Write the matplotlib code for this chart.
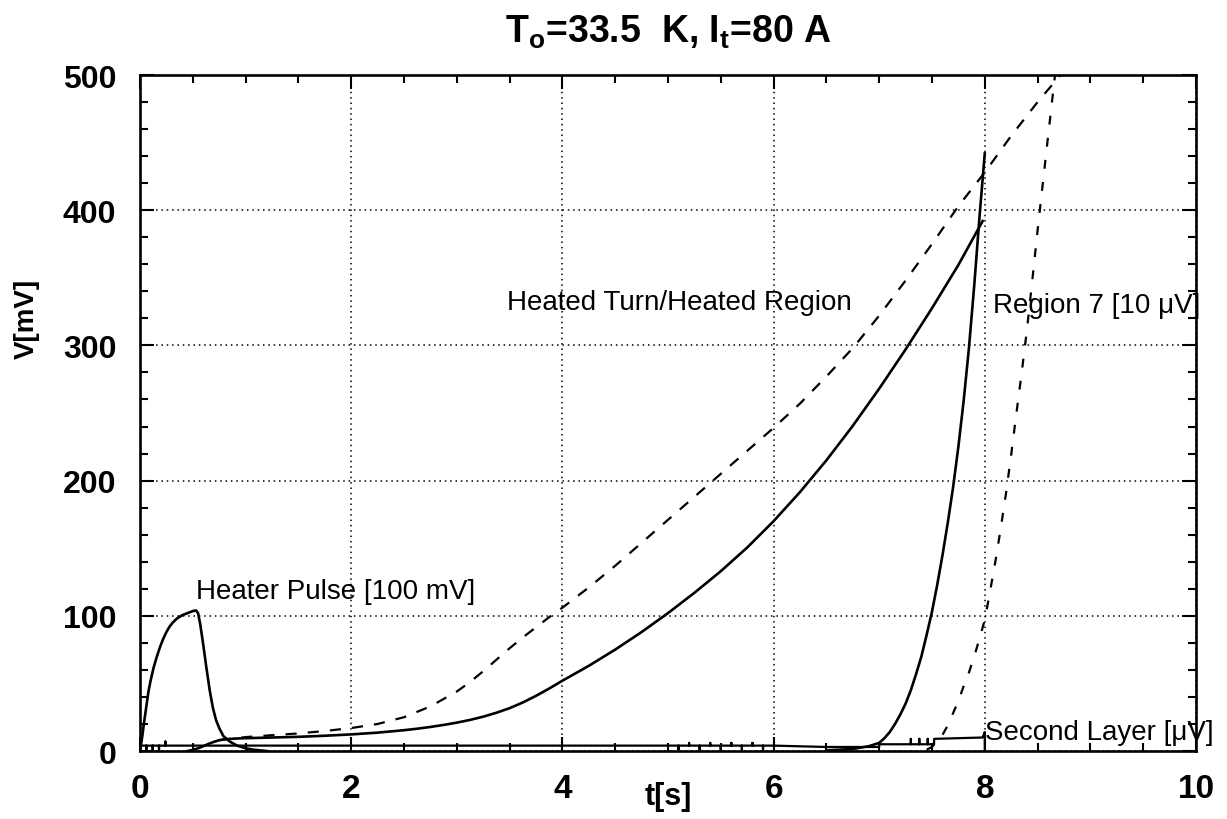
import numpy as np
import matplotlib
matplotlib.use("Agg")
from matplotlib import pyplot as plt
from matplotlib.ticker import MultipleLocator

plt.rcParams['font.family'] = ['Liberation Sans', 'DejaVu Sans']
plt.rcParams['mathtext.fontset'] = 'custom'
plt.rcParams['mathtext.rm'] = 'Liberation Sans'
plt.rcParams['mathtext.bf'] = 'Liberation Sans:bold'

# heater pulse [100 mV]
pulse_t = [0.0, 0.02, 0.04, 0.06, 0.08, 0.1, 0.13, 0.16, 0.19, 0.22, 0.25, 0.28, 0.31, 0.35, 0.4, 0.45, 0.5,
           0.53, 0.55, 0.57, 0.6, 0.63, 0.66, 0.69, 0.72, 0.75, 0.79, 0.85, 0.92, 1.0, 1.07, 1.2]
pulse_v = [0, 10, 22, 33, 44, 52, 62, 70, 77, 83, 88, 92, 95, 98, 100.5, 102, 103.5,
           104, 102, 94, 78, 61, 45, 32, 23, 17, 11, 7, 4, 2, 1, 0]

# heated turn (solid)
turn_t = [0.45, 0.5, 0.55, 0.6, 0.65, 0.7, 0.75, 0.8, 0.9, 1.0, 1.25, 1.5, 1.75, 2.0, 2.25, 2.5, 2.625,
          2.75, 2.875, 3.0, 3.125, 3.25, 3.375, 3.5, 3.625, 3.75, 3.875, 4.0, 4.125, 4.25, 4.5, 4.75,
          5.0, 5.25, 5.5, 5.75, 6.0, 6.25, 6.5, 6.75, 7.0, 7.25, 7.5, 7.75, 7.98]
turn_v = [0, 0.8, 2, 3.6, 5.3, 6.8, 8, 8.7, 9.2, 9.5, 10, 10.5, 11.3, 12.3, 13.6, 15.4, 16.5,
          17.8, 19.3, 21, 23, 25.4, 28.3, 31.7, 35.9, 40.8, 46.2, 52, 57.5, 63, 75, 88,
          102, 117, 133, 150.5, 170, 191.5, 215, 240.5, 268, 297, 327.5, 359.5, 392]

# heated region (dashed)
region_t = [0.75, 1.0, 1.25, 1.5, 1.75, 2.0, 2.25, 2.5, 2.75, 3.0, 3.125, 3.25, 3.375, 3.5, 3.625, 3.75,
            3.875, 4.0, 4.25, 4.5, 4.75, 5.0, 5.25, 5.5, 5.75, 6.0, 6.25, 6.5, 6.75, 7.0, 7.25, 7.5,
            7.75, 8.0, 8.25, 8.5, 8.75]
region_v = [8, 10.3, 11.7, 13, 14.8, 17, 20, 25, 33, 44, 51, 59, 67.5, 76, 84, 91.5,
            99, 106, 121, 137, 154, 171, 188, 205, 222, 239, 257, 277, 298, 322, 348, 375,
            403, 428, 455, 480, 503]

# region 7 [10 uV] (solid)
r7_t = [6.5, 6.75, 6.9, 7.0, 7.05, 7.1, 7.15, 7.2, 7.25, 7.3, 7.35, 7.4, 7.45, 7.5, 7.55, 7.6, 7.65,
        7.7, 7.75, 7.8, 7.85, 7.9, 7.95, 8.0]
r7_v = [0.5, 1.5, 3.5, 6, 9.5, 14, 20, 27, 35, 45, 57, 70, 86, 103, 123, 145, 169,
        195, 225, 259, 298, 344, 395, 442]

# region 7 (dashed)
r7d_t = [7.45, 7.5, 7.55, 7.6, 7.65, 7.7, 7.75, 7.8, 7.85, 7.9, 7.95, 8.0, 8.05, 8.1, 8.15, 8.2, 8.25,
         8.3, 8.35, 8.4, 8.45, 8.5, 8.55, 8.6, 8.68]
r7d_v = [1, 3, 7, 12, 19, 28, 37, 48, 58, 70, 83, 97, 118, 140, 164, 190, 219,
         250, 280, 312, 348, 385, 420, 455, 510]

# second layer [uV]
layer_t = [0.0, 0.06, 0.06, 0.06, 0.12, 0.12, 0.12, 0.18, 0.18, 0.18, 0.24, 0.24, 0.24, 0.4, 1.0, 2.0,
           3.0, 4.0, 5.0, 5.1, 5.1, 5.1, 5.2, 5.2, 5.2, 5.3, 5.3, 5.3, 5.4, 5.4, 5.4, 5.5, 5.5, 5.5,
           5.6, 5.6, 5.6, 5.7, 5.7, 5.7, 5.8, 5.8, 5.8, 5.9, 5.9, 5.9, 6.0, 6.5, 7.0, 7.0, 7.3, 7.3,
           7.3, 7.38, 7.38, 7.38, 7.46, 7.46, 7.46, 7.52, 7.52, 7.98, 8.0, 8.0]
layer_v = [4, 4, 1, 4, 4, 1, 4, 4, 0, 4, 4, 7, 4, 4, 4, 4,
           4, 4, 4, 4, 1, 4, 4, 6, 4, 4, 1, 4, 4, 6, 4, 4, 1, 4,
           4, 6, 4, 4, 1, 4, 4, 6, 4, 4, 1, 4, 4, 3, 3, 5, 5, 9,
           5, 5, 9, 5, 5, 9, 5, 5, 9, 10, 14, 0]

fig = plt.figure(figsize=(12.27, 8.2), dpi=100)
ax = fig.add_axes([0.1141, 0.0829, 0.8606, 0.8244])

lw = 1.9
ax.plot(pulse_t, pulse_v, color='black', lw=lw)
ax.plot(turn_t, turn_v, color='black', lw=lw)
ax.plot(region_t, region_v, color='black', lw=1.6, ls=(0, (5, 5)))
ax.plot(r7_t, r7_v, color='black', lw=lw)
ax.plot(r7d_t, r7d_v, color='black', lw=1.6, ls=(0, (4, 6)))
ax.plot(layer_t, layer_v, color='black', lw=1.6)

ax.set_xlim(0, 10)
ax.set_ylim(0, 500)
ax.xaxis.set_major_locator(MultipleLocator(2))
ax.xaxis.set_minor_locator(MultipleLocator(0.5))
ax.yaxis.set_major_locator(MultipleLocator(100))
ax.yaxis.set_minor_locator(MultipleLocator(20))
ax.tick_params(which='both', direction='in', top=True, right=True, width=1.5, color='black')
ax.tick_params(which='major', length=10)
ax.tick_params(which='minor', length=6)
ax.tick_params(axis='x', which='major', labelsize=24, pad=16)
ax.tick_params(axis='y', which='major', labelsize=23, pad=17)
for lab in ax.get_xticklabels() + ax.get_yticklabels():
    lab.set_fontweight('bold')
for sp in ax.spines.values():
    sp.set_linewidth(1.9)
ax.grid(True, which='major', color='black', ls=(0, (1, 2.5)), lw=1.1)

ax.set_xlabel('t[s]', fontsize=22, fontweight='bold')
ax.xaxis.set_label_coords(0.5, -0.045, transform=ax.transAxes)
ax.xaxis.label.set_va('top')
ax.set_ylabel('V[mV]', fontsize=20, fontweight='bold')
ax.yaxis.set_label_coords(-0.095, 0.64)

ax.set_title(r'$\mathbf{T_o}$=33.5  K, $\mathbf{I_t}$=80 A', fontsize=27, fontweight='bold', pad=24)

ax.text(0.53, 118, 'Heater Pulse [100 mV]', fontsize=20, va='center')
ax.text(3.48, 332, 'Heated Turn/Heated Region', fontsize=20, va='center')
ax.text(8.08, 330, 'Region 7 [10 \u03bcV]', fontsize=20, va='center', clip_on=False)
ax.text(8.0, 14, 'Second Layer [\u03bcV]', fontsize=20, va='center', clip_on=False)

fig.savefig('out.png', dpi=100)
